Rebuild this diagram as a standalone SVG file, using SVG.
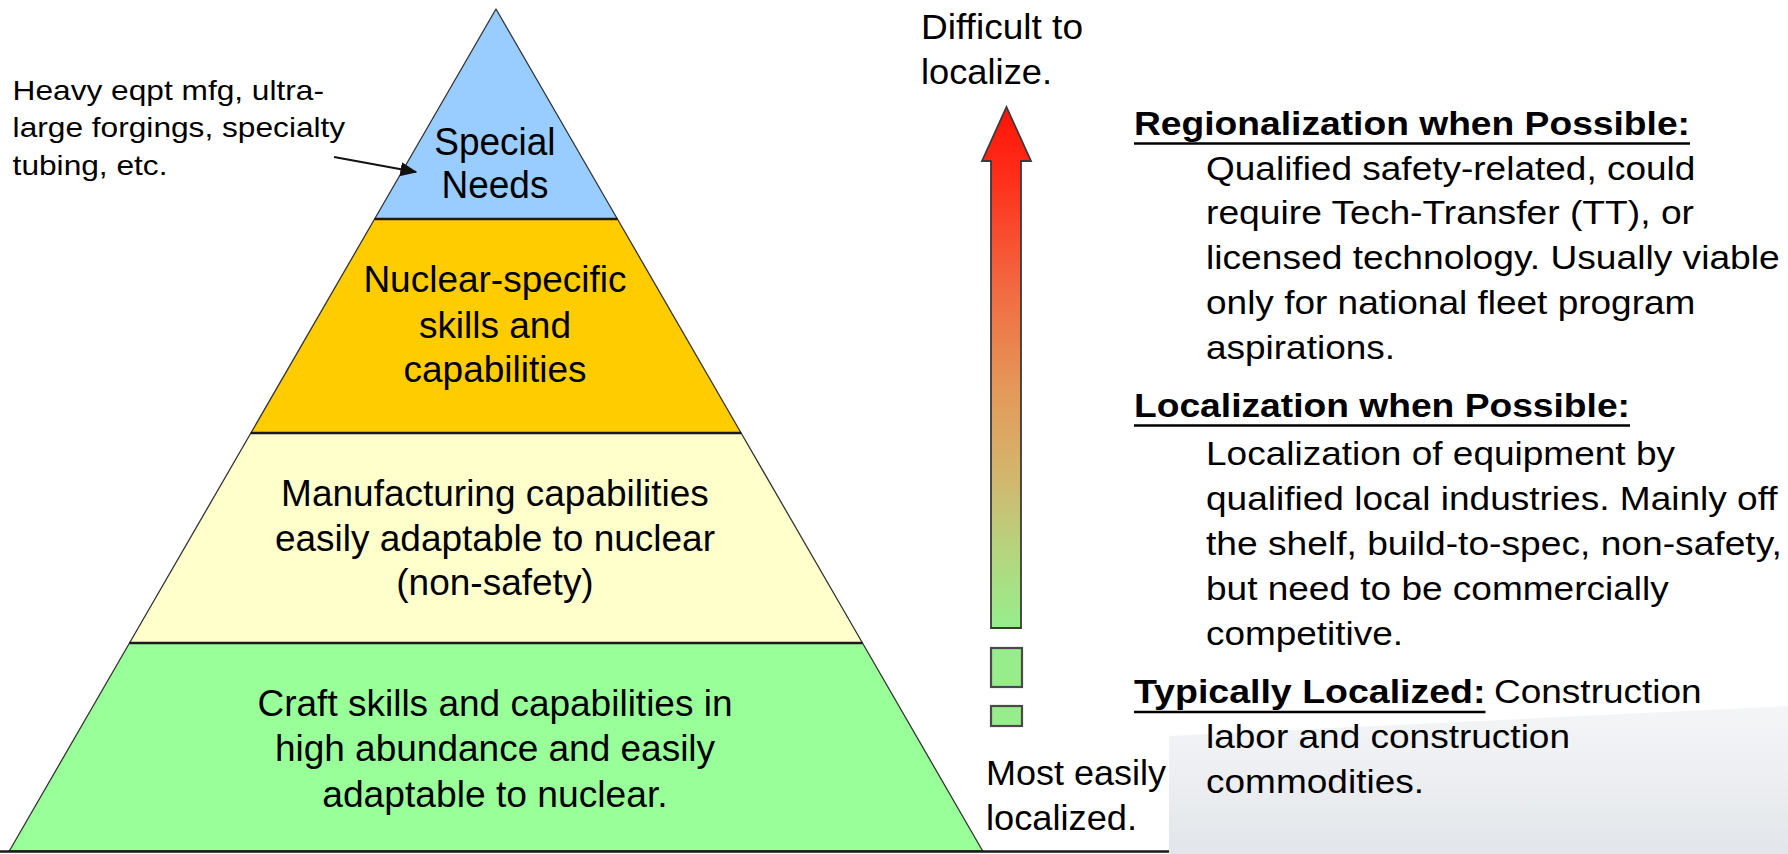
<svg xmlns="http://www.w3.org/2000/svg" width="1788" height="854" viewBox="0 0 1788 854">
  <style>
    text { font-family: "Liberation Sans", Arial, sans-serif; fill: #000; }
    .tier-text { font-size: 36px; }
    .top-text { font-size: 38px; }
    .note { font-size: 28.5px; }
    .scale-label { font-size: 35px; }
    .body { font-size: 33px; }
    .head { font-size: 34px; font-weight: bold; }
    .edge { stroke: #333; stroke-width: 1.3; stroke-linejoin: round; }
    .divider { stroke: #1a1a1a; stroke-width: 2.6; }
    .uline { stroke: #000; stroke-width: 2.6; }
    .step { fill: #97ec8b; stroke: #4a4a4a; stroke-width: 2.2; }
  </style>
  <defs>
    <linearGradient id="scaleGrad" gradientUnits="userSpaceOnUse" x1="0" y1="107" x2="0" y2="628">
      <stop offset="0" stop-color="#ff1505"/>
      <stop offset="0.12" stop-color="#ff2a18"/>
      <stop offset="0.35" stop-color="#f26a42"/>
      <stop offset="0.55" stop-color="#e39a5a"/>
      <stop offset="0.7" stop-color="#d4b46c"/>
      <stop offset="0.85" stop-color="#b6d47e"/>
      <stop offset="1" stop-color="#96ee8c"/>
    </linearGradient>
    <linearGradient id="panelGrad" x1="0" y1="0" x2="0" y2="1">
      <stop offset="0" stop-color="#f4f5f7"/>
      <stop offset="0.5" stop-color="#eceef1"/>
      <stop offset="1" stop-color="#e2e5e9"/>
    </linearGradient>
    <marker id="head" viewBox="0 0 12 10" refX="11" refY="5" markerWidth="8.5" markerHeight="7.5" orient="auto" markerUnits="strokeWidth">
      <path d="M0,0 L12,5 L0,10 Z" fill="#111"/>
    </marker>
  </defs>

  <rect width="1788" height="854" fill="#fff"/>

  <!-- Pyramid tiers -->
  <g id="tier-special">
    <polygon points="496,9 617.4,219 374.6,219" fill="#99ccff" class="edge"/>
    <text class="top-text" x="434.3" y="155" textLength="121.3" lengthAdjust="spacingAndGlyphs">Special</text>
    <text class="top-text" x="441.5" y="198" textLength="106.9" lengthAdjust="spacingAndGlyphs">Needs</text>
  </g>
  <g id="tier-nuclear">
    <polygon points="374.6,219 617.4,219 741.1,433 250.9,433" fill="#ffcc00" class="edge"/>
    <text class="tier-text" x="363.4" y="292" textLength="263.1" lengthAdjust="spacingAndGlyphs">Nuclear-specific</text>
    <text class="tier-text" x="418.9" y="338" textLength="152.1" lengthAdjust="spacingAndGlyphs">skills and</text>
    <text class="tier-text" x="403.5" y="382" textLength="183" lengthAdjust="spacingAndGlyphs">capabilities</text>
  </g>
  <g id="tier-manufacturing">
    <polygon points="250.9,433 741.1,433 862.5,643 129.5,643" fill="#ffffcc" class="edge"/>
    <text class="tier-text" x="281.1" y="506" textLength="427.7" lengthAdjust="spacingAndGlyphs">Manufacturing capabilities</text>
    <text class="tier-text" x="274.9" y="551" textLength="440.1" lengthAdjust="spacingAndGlyphs">easily adaptable to nuclear</text>
    <text class="tier-text" x="396.3" y="595" textLength="197.4" lengthAdjust="spacingAndGlyphs">(non-safety)</text>
  </g>
  <g id="tier-craft">
    <polygon points="129.5,643 862.5,643 982.7,851 9.3,851" fill="#99ff99" class="edge"/>
    <text class="tier-text" x="257.5" y="716" textLength="475" lengthAdjust="spacingAndGlyphs">Craft skills and capabilities in</text>
    <text class="tier-text" x="274.9" y="761" textLength="440.2" lengthAdjust="spacingAndGlyphs">high abundance and easily</text>
    <text class="tier-text" x="322.2" y="807" textLength="345.5" lengthAdjust="spacingAndGlyphs">adaptable to nuclear.</text>
  </g>
  <g id="tier-dividers">
    <line class="divider" x1="374.6" y1="219" x2="617.4" y2="219"/>
    <line class="divider" x1="250.9" y1="433" x2="741.1" y2="433"/>
    <line class="divider" x1="129.5" y1="643" x2="862.5" y2="643"/>
    <line x1="0" y1="851.5" x2="1169" y2="851.5" stroke="#1a1a1a" stroke-width="2.4"/>
  </g>

  <!-- Side note on the top tier -->
  <g id="note-special">
    <text class="note" x="12.6" y="100" textLength="311.4" lengthAdjust="spacingAndGlyphs">Heavy eqpt mfg, ultra-</text>
    <text class="note" x="12.6" y="137" textLength="332.6" lengthAdjust="spacingAndGlyphs">large forgings, specialty</text>
    <text class="note" x="12.6" y="175" textLength="154.9" lengthAdjust="spacingAndGlyphs">tubing, etc.</text>
  </g>

  <!-- Connectors -->
  <g id="connectors">
    <line x1="334" y1="157" x2="416" y2="172" stroke="#111" stroke-width="2" marker-end="url(#head)"/>
  </g>

  <!-- Difficulty scale -->
  <g id="scale">
    <text class="scale-label" x="921" y="39" textLength="162" lengthAdjust="spacingAndGlyphs">Difficult to</text>
    <text class="scale-label" x="921" y="84" textLength="131" lengthAdjust="spacingAndGlyphs">localize.</text>
    <polygon points="1006.5,107 1031,161 1021,161 1021,628 991,628 991,161 982,161" fill="url(#scaleGrad)" stroke="#3a3a3a" stroke-width="1.8" stroke-linejoin="miter"/>
    <rect class="step" x="991" y="648" width="31" height="39"/>
    <rect class="step" x="991" y="706" width="31" height="20"/>
    <text class="scale-label" x="986" y="785" textLength="180" lengthAdjust="spacingAndGlyphs">Most easily</text>
    <text class="scale-label" x="986" y="830" textLength="151" lengthAdjust="spacingAndGlyphs">localized.</text>
  </g>

  <!-- Backdrop panel in the lower right corner -->
  <polygon id="backdrop" points="1169,736 1788,706 1788,854 1169,854" fill="url(#panelGrad)"/>

  <!-- Localization categories -->
  <g id="cat-regional">
    <text class="head" x="1134" y="135" textLength="556" lengthAdjust="spacingAndGlyphs">Regionalization when Possible:</text>
    <line class="uline" x1="1134" y1="143.5" x2="1690" y2="143.5"/>
    <text class="body" x="1206" y="180" textLength="489.4" lengthAdjust="spacingAndGlyphs">Qualified safety-related, could</text>
    <text class="body" x="1206" y="224" textLength="488" lengthAdjust="spacingAndGlyphs">require Tech-Transfer (TT), or</text>
    <text class="body" x="1206" y="269" textLength="573.7" lengthAdjust="spacingAndGlyphs">licensed technology. Usually viable</text>
    <text class="body" x="1206" y="314" textLength="489.4" lengthAdjust="spacingAndGlyphs">only for national fleet program</text>
    <text class="body" x="1206" y="359" textLength="189" lengthAdjust="spacingAndGlyphs">aspirations.</text>
  </g>
  <g id="cat-local">
    <text class="head" x="1134" y="417" textLength="496" lengthAdjust="spacingAndGlyphs">Localization when Possible:</text>
    <line class="uline" x1="1134" y1="425.5" x2="1630" y2="425.5"/>
    <text class="body" x="1206" y="465" textLength="469" lengthAdjust="spacingAndGlyphs">Localization of equipment by</text>
    <text class="body" x="1206" y="510" textLength="571.6" lengthAdjust="spacingAndGlyphs">qualified local industries. Mainly off</text>
    <text class="body" x="1206" y="555" textLength="575.8" lengthAdjust="spacingAndGlyphs">the shelf, build-to-spec, non-safety,</text>
    <text class="body" x="1206" y="600" textLength="462.7" lengthAdjust="spacingAndGlyphs">but need to be commercially</text>
    <text class="body" x="1206" y="645" textLength="197" lengthAdjust="spacingAndGlyphs">competitive.</text>
  </g>
  <g id="cat-typical">
    <text class="head" x="1134" y="703" textLength="351.5" lengthAdjust="spacingAndGlyphs">Typically Localized:</text>
    <line class="uline" x1="1134" y1="712" x2="1485.5" y2="712"/>
    <text class="body" x="1494" y="703" textLength="207.7" lengthAdjust="spacingAndGlyphs">Construction</text>
    <text class="body" x="1206" y="748" textLength="364" lengthAdjust="spacingAndGlyphs">labor and construction</text>
    <text class="body" x="1206" y="793" textLength="218" lengthAdjust="spacingAndGlyphs">commodities.</text>
  </g>
</svg>
